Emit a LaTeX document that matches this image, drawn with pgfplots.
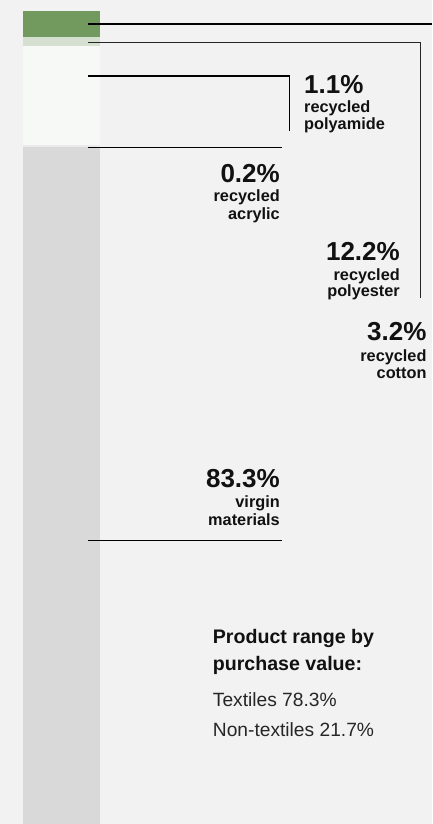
\documentclass[border=0pt]{standalone}
\usepackage{fontspec}
\setmainfont{Liberation Sans}
\usepackage{pgfplots}
\pgfplotsset{compat=1.18}
\definecolor{bg}{HTML}{F2F2F2}
\definecolor{cotton}{HTML}{739A5E}
\definecolor{polyamide}{HTML}{D6E0D0}
\definecolor{polyester}{HTML}{F7F9F6}
\definecolor{acrylic}{HTML}{EAEAEA}
\definecolor{virgin}{HTML}{D9D9D9}
\definecolor{txt}{HTML}{111111}
\newcommand{\bigpct}[1]{{\fontsize{26}{26}\selectfont\bfseries #1}}
\newcommand{\sm}[1]{{\fontsize{16.3}{17}\selectfont\bfseries #1}}
\begin{document}
\begin{tikzpicture}
\begin{scope}[x=1pt,y=-1pt]
\fill[bg] (0,0) rectangle (432,824);
\end{scope}
\begin{axis}[at={(0pt,0pt)}, anchor=north west, scale only axis,
  width=432pt, height=824pt, xmin=0, xmax=432, ymin=0, ymax=101.353,
  hide axis, ybar stacked, bar width=77pt, clip=false]
\addplot[fill=virgin, draw=none] coordinates {(61.5,83.3)};
\addplot[fill=acrylic, draw=none] coordinates {(61.5,0.2)};
\addplot[fill=polyester, draw=none] coordinates {(61.5,12.2)};
\addplot[fill=polyamide, draw=none] coordinates {(61.5,1.1)};
\addplot[fill=cotton, draw=none] coordinates {(61.5,3.2)};
\end{axis}
\begin{scope}[x=1pt,y=-1pt, every node/.style={inner sep=0pt, text=txt}]
\draw[black, line width=1.3pt] (88,24) -- (432,24);
\draw[black!85, line width=1pt] (88,42.3) -- (420,42.3) -- (420,298);
\draw[black, line width=1.3pt] (88,76) -- (289.3,76) -- (289.3,131);
\draw[black, line width=1.3pt] (88,147.3) -- (281.7,147.3);
\draw[black, line width=1.3pt] (88,540.7) -- (281.7,540.7);
% 1.1% polyamide
\node[anchor=base west] at (304,93.3) {\bigpct{1.1\%}};
\node[anchor=base west] at (304,112.7) {\sm{recycled}};
\node[anchor=base west] at (304,129.3) {\sm{polyamide}};
% 0.2% acrylic
\node[anchor=base east] at (280,182.3) {\bigpct{0.2\%}};
\node[anchor=base east] at (280,201.7) {\sm{recycled}};
\node[anchor=base east] at (280,219) {\sm{acrylic}};
% 12.2% polyester
\node[anchor=base east] at (400,260) {\bigpct{12.2\%}};
\node[anchor=base east] at (400,280) {\sm{recycled}};
\node[anchor=base east] at (400,296.7) {\sm{polyester}};
% 3.2% cotton
\node[anchor=base east] at (426.7,340.7) {\bigpct{3.2\%}};
\node[anchor=base east] at (426.7,361) {\sm{recycled}};
\node[anchor=base east] at (426.7,378) {\sm{cotton}};
% 83.3% virgin
\node[anchor=base east] at (280,487.3) {\bigpct{83.3\%}};
\node[anchor=base east] at (280,507.7) {\sm{virgin}};
\node[anchor=base east] at (280,525) {\sm{materials}};
% product range
\node[anchor=base west] at (212.7,643.3) {\fontsize{19.6}{20}\selectfont\bfseries Product range by};
\node[anchor=base west] at (212.7,670) {\fontsize{19.6}{20}\selectfont\bfseries purchase value:};
\node[anchor=base west, text=black!85] at (212.7,706.7) {\fontsize{19.2}{20}\selectfont Textiles 78.3\%};
\node[anchor=base west, text=black!85] at (212.7,736.7) {\fontsize{19.2}{20}\selectfont Non-textiles 21.7\%};
\end{scope}
\end{tikzpicture}
\end{document}
